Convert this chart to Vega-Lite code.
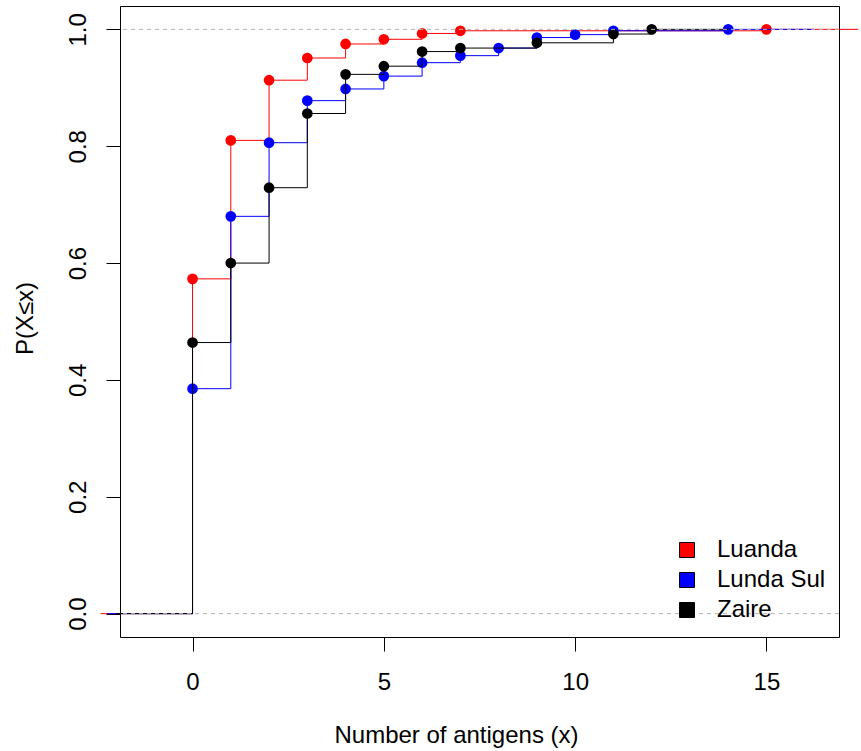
{
  "$schema": "https://vega.github.io/schema/vega-lite/v6.json",
  "autosize": "none",
  "width": 719,
  "height": 631,
  "padding": {"left": 120, "top": 6, "right": 22, "bottom": 114},
  "background": "white",
  "config": {
    "font": "Liberation Sans",
    "view": {"stroke": "black", "strokeWidth": 1},
    "axis": {"grid": false, "domain": false, "tickColor": "black", "tickSize": 14, "labelColor": "black", "labelFontSize": 24, "titleFontSize": 24, "titleFontWeight": "normal", "titleColor": "black", "labelFont": "Liberation Sans", "titleFont": "Liberation Sans"},
    "legend": {"labelFont": "Liberation Sans", "labelFontSize": 24, "labelColor": "black"}
  },
  "datasets": {
    "ecdf": [
      {"g": "Luanda", "x": -2.4, "p": 0, "kind": "tail"},
      {"g": "Luanda", "x": 0, "p": 0.573, "kind": "knot"},
      {"g": "Luanda", "x": 1, "p": 0.810, "kind": "knot"},
      {"g": "Luanda", "x": 2, "p": 0.913, "kind": "knot"},
      {"g": "Luanda", "x": 3, "p": 0.951, "kind": "knot"},
      {"g": "Luanda", "x": 4, "p": 0.975, "kind": "knot"},
      {"g": "Luanda", "x": 5, "p": 0.983, "kind": "knot"},
      {"g": "Luanda", "x": 6, "p": 0.993, "kind": "knot"},
      {"g": "Luanda", "x": 7, "p": 0.9976, "kind": "knot"},
      {"g": "Luanda", "x": 15, "p": 1.0, "kind": "knot"},
      {"g": "Luanda", "x": 17.4, "p": 1.0, "kind": "tail"},
      {"g": "Lunda Sul", "x": -2.24, "p": 0, "kind": "tail"},
      {"g": "Lunda Sul", "x": 0, "p": 0.385, "kind": "knot"},
      {"g": "Lunda Sul", "x": 1, "p": 0.680, "kind": "knot"},
      {"g": "Lunda Sul", "x": 2, "p": 0.806, "kind": "knot"},
      {"g": "Lunda Sul", "x": 3, "p": 0.878, "kind": "knot"},
      {"g": "Lunda Sul", "x": 4, "p": 0.898, "kind": "knot"},
      {"g": "Lunda Sul", "x": 5, "p": 0.920, "kind": "knot"},
      {"g": "Lunda Sul", "x": 6, "p": 0.943, "kind": "knot"},
      {"g": "Lunda Sul", "x": 7, "p": 0.955, "kind": "knot"},
      {"g": "Lunda Sul", "x": 8, "p": 0.968, "kind": "knot"},
      {"g": "Lunda Sul", "x": 9, "p": 0.986, "kind": "knot"},
      {"g": "Lunda Sul", "x": 10, "p": 0.991, "kind": "knot"},
      {"g": "Lunda Sul", "x": 11, "p": 0.9976, "kind": "knot"},
      {"g": "Lunda Sul", "x": 14, "p": 1.0, "kind": "knot"},
      {"g": "Lunda Sul", "x": 16.24, "p": 1.0, "kind": "tail"},
      {"g": "Zaire", "x": -2, "p": 0, "kind": "tail"},
      {"g": "Zaire", "x": 0, "p": 0.464, "kind": "knot"},
      {"g": "Zaire", "x": 1, "p": 0.600, "kind": "knot"},
      {"g": "Zaire", "x": 2, "p": 0.729, "kind": "knot"},
      {"g": "Zaire", "x": 3, "p": 0.856, "kind": "knot"},
      {"g": "Zaire", "x": 4, "p": 0.923, "kind": "knot"},
      {"g": "Zaire", "x": 5, "p": 0.937, "kind": "knot"},
      {"g": "Zaire", "x": 6, "p": 0.962, "kind": "knot"},
      {"g": "Zaire", "x": 7, "p": 0.968, "kind": "knot"},
      {"g": "Zaire", "x": 9, "p": 0.977, "kind": "knot"},
      {"g": "Zaire", "x": 11, "p": 0.992, "kind": "knot"},
      {"g": "Zaire", "x": 12, "p": 1.0, "kind": "knot"},
      {"g": "Zaire", "x": 14, "p": 1.0, "kind": "tail"}
    ],
    "ref": [{"p": 0}, {"p": 1}]
  },
  "data": {"name": "ecdf"},
  "encoding": {
    "x": {"field": "x", "type": "quantitative", "scale": {"domain": [-1.896, 16.896], "nice": false, "zero": false},
      "axis": {"values": [0, 5, 10, 15], "title": "Number of antigens (x)", "labelPadding": 19, "titleBaseline": "alphabetic", "titleY": 105, "titleX": 336, "titleAlign": "center", "titleAnchor": "start"}},
    "y": {"field": "p", "type": "quantitative", "scale": {"domain": [-0.04, 1.04], "nice": false, "zero": false},
      "axis": {"values": [0, 0.2, 0.4, 0.6, 0.8, 1.0], "format": ".1f", "title": "P(X≤x)", "labelAngle": -90, "labelAlign": "center", "labelBaseline": "alphabetic", "labelPadding": 21, "titleBaseline": "alphabetic", "titleAngle": -90, "titleX": -88, "titleY": 312, "titleAlign": "center", "titleAnchor": "start"}}
  },
  "layer": [
    {"transform": [{"filter": "datum.g == 'Luanda'"}], "mark": {"type": "line", "interpolate": "step-after", "strokeWidth": 1, "clip": false, "stroke": "#ff0000"}},
    {"transform": [{"filter": "datum.g == 'Luanda' && datum.kind == 'knot'"}], "mark": {"type": "point", "filled": true, "opacity": 1, "size": 115, "shape": "circle", "fill": "#ff0000"}},
    {"transform": [{"filter": "datum.g == 'Lunda Sul'"}], "mark": {"type": "line", "interpolate": "step-after", "strokeWidth": 1, "clip": false, "stroke": "#0000ff"}},
    {"transform": [{"filter": "datum.g == 'Lunda Sul' && datum.kind == 'knot'"}], "mark": {"type": "point", "filled": true, "opacity": 1, "size": 115, "shape": "circle", "fill": "#0000ff"}},
    {"transform": [{"filter": "datum.g == 'Zaire'"}], "mark": {"type": "line", "interpolate": "step-after", "strokeWidth": 1, "clip": false, "stroke": "#000000"}},
    {"transform": [{"filter": "datum.g == 'Zaire' && datum.kind == 'knot'"}], "mark": {"type": "point", "filled": true, "opacity": 1, "size": 115, "shape": "circle", "fill": "#000000"}},
    {"data": {"name": "ref"}, "mark": {"type": "rule", "color": "#b3b3b3", "strokeDash": [4, 4], "strokeWidth": 1},
      "encoding": {"y": {"field": "p", "type": "quantitative"}, "x": null}},
    {"transform": [{"filter": "datum.kind == 'knot'"}], "mark": {"type": "point", "filled": true, "opacity": 0, "size": 1, "shape": "square"},
      "encoding": {"fill": {"field": "g", "type": "nominal", "scale": {"domain": ["Luanda", "Lunda Sul", "Zaire"], "range": ["#ff0000", "#0000ff", "#000000"]},
        "legend": {"title": null, "orient": "none", "legendX": 555, "legendY": 532, "symbolType": "square", "symbolSize": 225, "symbolStrokeColor": "black", "symbolStrokeWidth": 1, "symbolOpacity": 1, "labelOffset": 18, "rowPadding": 6}}}}
  ]
}
